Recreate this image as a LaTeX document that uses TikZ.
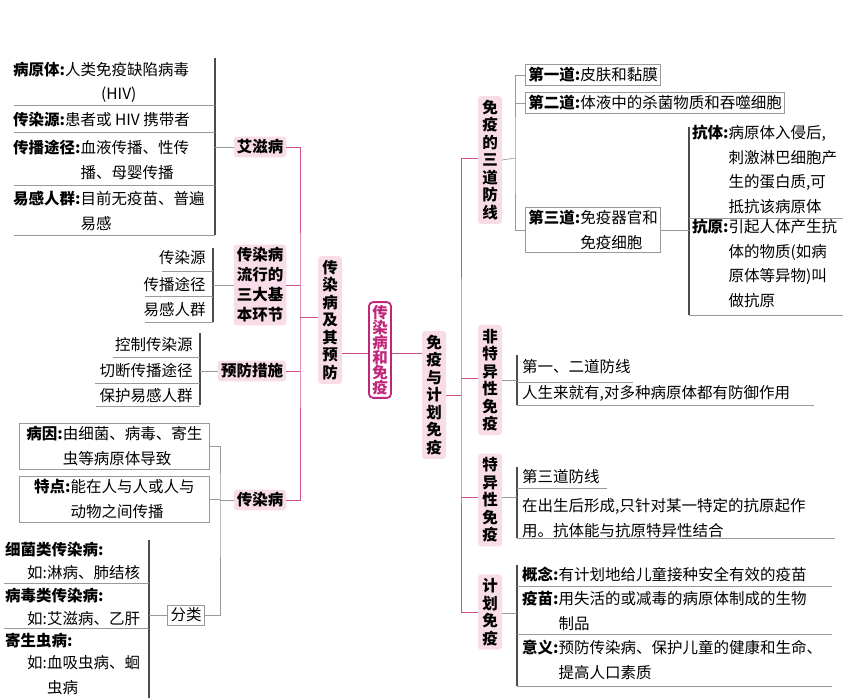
\documentclass[tikz,border=0pt]{standalone}
\usepackage{fontspec}
\setmainfont{Noto Sans CJK SC}
\definecolor{pinkfill}{HTML}{F8DCE8}
\definecolor{magline}{HTML}{CF4F8A}
\definecolor{magdark}{HTML}{C0267A}
\tikzset{
  pinkbox/.style={fill=pinkfill, rounded corners=3pt, inner sep=3pt, font=\fontsize{15.5}{20}\selectfont\bfseries, align=center},
  vbox/.style={pinkbox, text width=16pt, inner sep=4pt, font=\fontsize{15.5}{17.5}\selectfont\bfseries},
  pl/.style={magline, line width=0.8pt},
  gl/.style={gray!80, line width=0.7pt},
  gv/.style={gray!60!black, line width=1.1pt},
  leaf/.style={anchor=west, align=left, inner sep=1pt},
  framebox/.style={draw=gray!80, line width=0.7pt, align=left, inner sep=3pt}
}
\newcommand{\lb}[1]{\textbf{#1:}}
\newcommand{\ind}[1]{\phantom{\textbf{#1:}}}
\begin{document}
\fontsize{15.5}{24.5}\selectfont
\begin{tikzpicture}[x=1pt, y=-1pt]
	\useasboundingbox (0,0) rectangle (843,698);

	% centre
	\node[draw=magdark, line width=1.8pt, rounded corners=4pt, text=magdark, font=\fontsize{15.5}{15}\selectfont\bfseries, text width=16pt, align=center, inner sep=3pt] (root) at (380,350) {传\\染\\病\\和\\免\\疫};

	% left main branch
	\node[vbox] (sub) at (330,320) {传\\染\\病\\及\\其\\预\\防};
	\node[pinkbox] (aids) at (260,147) {艾滋病};
	\node[pinkbox] (three) at (260,285) {传染病\\流行的\\三大基\\本环节};
	\node[pinkbox] (prev) at (252,371) {预防措施};
	\node[pinkbox] (inf) at (260,500) {传染病};
	\coordinate (jl) at (300,317);
	\draw[pl] (root.west |- 0,353) -- (sub.east |- 0,353);
	\draw[pl] (aids.east) -| (jl) |- (inf.east);
	\draw[pl] (three.east) -- (three.east -| jl);
	\draw[pl] (prev.east) -- (prev.east -| jl);
	\draw[pl] (jl) -- (sub.west |- jl);

	% AIDS table
	\draw[gv] (215,58) -- (215,235);
	\node[leaf] (a1) at (12,70) {\lb{病原体}人类免疫缺陷病毒};
	\node[leaf] (a1b) at (100,95) {(HIV)};
	\node[leaf] (a2) at (12,120) {\lb{传染源}患者或 HIV 携带者};
	\node[leaf] (a3) at (12,160) {\lb{传播途径}血液传播、性传\\\ind{传播途径}播、母婴传播};
	\node[leaf] (a4) at (12,211) {\lb{易感人群}目前无疫苗、普遍\\\ind{易感人群}易感};
	\foreach \y in {105,132,185,235} \draw[gl] (14,\y) -- (215,\y);
	\draw[gl] (aids.west) -- (215,147);

	% three links
	\draw[gv] (213,248) -- (213,322);
	\node[anchor=east] (t1) at (211,258) {传染源};
	\node[anchor=east] (t2) at (211,285) {传播途径};
	\node[anchor=east] (t3) at (211,310) {易感人群};
	\draw[gl] (162,271) -- (213,271);
	\draw[gl] (145,296) -- (213,296);
	\draw[gl] (145,322) -- (213,322);
	\draw[gl] (three.west) -- (213,285);

	% prevention
	\draw[gv] (200,333) -- (200,405);
	\node[anchor=east] (p1) at (198,345) {控制传染源};
	\node[anchor=east] (p2) at (198,371) {切断传播途径};
	\node[anchor=east] (p3) at (198,396) {保护易感人群};
	\draw[gl] (113,357) -- (200,357);
	\draw[gl] (95,383) -- (200,383);
	\draw[gl] (96,406) -- (200,406);
	\draw[gl] (prev.west) -- (200,371);

	% infectious disease
	\node[framebox, minimum width=190pt, minimum height=46pt, anchor=west] (cause) at (19,446) {\lb{病因}由细菌、病毒、寄生\\\ind{病因}虫等病原体导致};
	\node[framebox, minimum width=190pt, minimum height=46pt, anchor=west] (feat) at (19,499) {\lb{特点}能在人与人或人与\\\ind{特点}动物之间传播};
	\node[framebox, align=center] (cls) at (186,615) {分类};
	\draw[gl] (inf.west) -- (220,500);
	\draw[gl] (cause.east) -| (220,500) |- (cls.east);
	\draw[gl] (feat.east) -- (220,499);
	\draw[gv] (149,540) -- (149,698);
	\draw[gl] (cls.west) -- (149,615);
	\node[leaf] (c1) at (4,550) {\textbf{细菌类传染病:}};
	\node[leaf] (c1b) at (26,573) {如:淋病、肺结核};
	\node[leaf] (c2) at (4,596) {\textbf{病毒类传染病:}};
	\node[leaf] (c2b) at (26,619) {如:艾滋病、乙肝};
	\node[leaf] (c3) at (4,641) {\textbf{寄生虫病:}};
	\node[leaf] (c3b) at (26,675) {如:血吸虫病、蛔\\\phantom{如:}虫病};
	\draw[gl] (4,583) -- (149,583);
	\draw[gl] (4,628) -- (149,628);

	% right main branch
	\node[vbox] (imm) at (434,395) {免\\疫\\与\\计\\划\\免\\疫};
	\node[vbox] (lines) at (490,160) {免\\疫\\的\\三\\道\\防\\线};
	\node[vbox] (nons) at (490,380) {非\\特\\异\\性\\免\\疫};
	\node[vbox] (spec) at (490,500) {特\\异\\性\\免\\疫};
	\node[vbox] (plan) at (490,612) {计\\划\\免\\疫};
	\coordinate (jr) at (461,395);
	\draw[pl] (root.east |- 0,353) -- (imm.west |- 0,353);
	\draw[pl] (lines.west |- 0,158) -| (jr) |- (plan.west);
	\draw[pl] (imm.east) -- (jr);
	\draw[pl] (nons.west |- 0,378) -- (461,378);
	\draw[pl] (spec.west |- 0,497) -- (461,497);

	% three lines of defence
	\node[framebox, anchor=west] (d1) at (525,75) {\lb{第一道}皮肤和黏膜};
	\node[framebox, anchor=west] (d2) at (525,103) {\lb{第二道}体液中的杀菌物质和吞噬细胞};
	\node[framebox, anchor=west] (d3) at (525,230) {\lb{第三道}免疫器官和\\\ind{第三道}免疫细胞};
	\draw[gl] (lines.east) -- (515,158);
	\draw[gl] (d1.west) -| (515,158) |- (d3.west);
	\draw[gl] (d2.west) -- (515,103);
	\draw[gv] (689,127) -- (689,315);
	\draw[gl] (d3.east) -- (689,230);
	\node[leaf, anchor=north west] (ab) at (691,124) {\lb{抗体}病原体入侵后,\\\ind{抗体}刺激淋巴细胞产\\\ind{抗体}生的蛋白质,可\\\ind{抗体}抵抗该病原体};
	\node[leaf, anchor=north west] (ag) at (691,218) {\lb{抗原}引起人体产生抗\\\ind{抗原}体的物质(如病\\\ind{抗原}原体等异物)叫\\\ind{抗原}做抗原};
	\draw[gl] (689,218) -- (843,218);
	\draw[gl] (689,315) -- (843,315);

	% non-specific
	\draw[gv] (517,355) -- (517,405);
	\draw[gl] (nons.east |- 0,380) -- (517,380);
	\node[leaf] (n1) at (521,367) {第一、二道防线};
	\node[leaf] (n2) at (521,393) {人生来就有,对多种病原体都有防御作用};
	\draw[gl] (517,382) -- (633,382);
	\draw[gl] (517,405) -- (814,405);

	% specific
	\draw[gv] (517,467) -- (517,538);
	\draw[gl] (spec.east |- 0,497) -- (517,497);
	\node[leaf] (s1) at (521,477) {第三道防线};
	\node[leaf] (s2) at (521,518) {在出生后形成,只针对某一特定的抗原起作\\用。抗体能与抗原特异性结合};
	\draw[gl] (517,488) -- (607,488);
	\draw[gl] (517,538) -- (835,538);

	% planned immunity
	\draw[gv] (517,565) -- (517,686);
	\draw[gl] (plan.east |- 0,613) -- (517,613);
	\node[leaf] (q1) at (521,575) {\lb{概念}有计划地给儿童接种安全有效的疫苗};
	\node[leaf] (q2) at (521,611) {\lb{疫苗}用失活的或减毒的病原体制成的生物\\\ind{疫苗}制品};
	\node[leaf] (q3) at (521,660) {\lb{意义}预防传染病、保护儿童的健康和生命、\\\ind{意义}提高人口素质};
	\draw[gl] (517,586) -- (832,586);
	\draw[gl] (517,634) -- (832,634);
	\draw[gl] (517,686) -- (832,686);
\end{tikzpicture}
\end{document}
